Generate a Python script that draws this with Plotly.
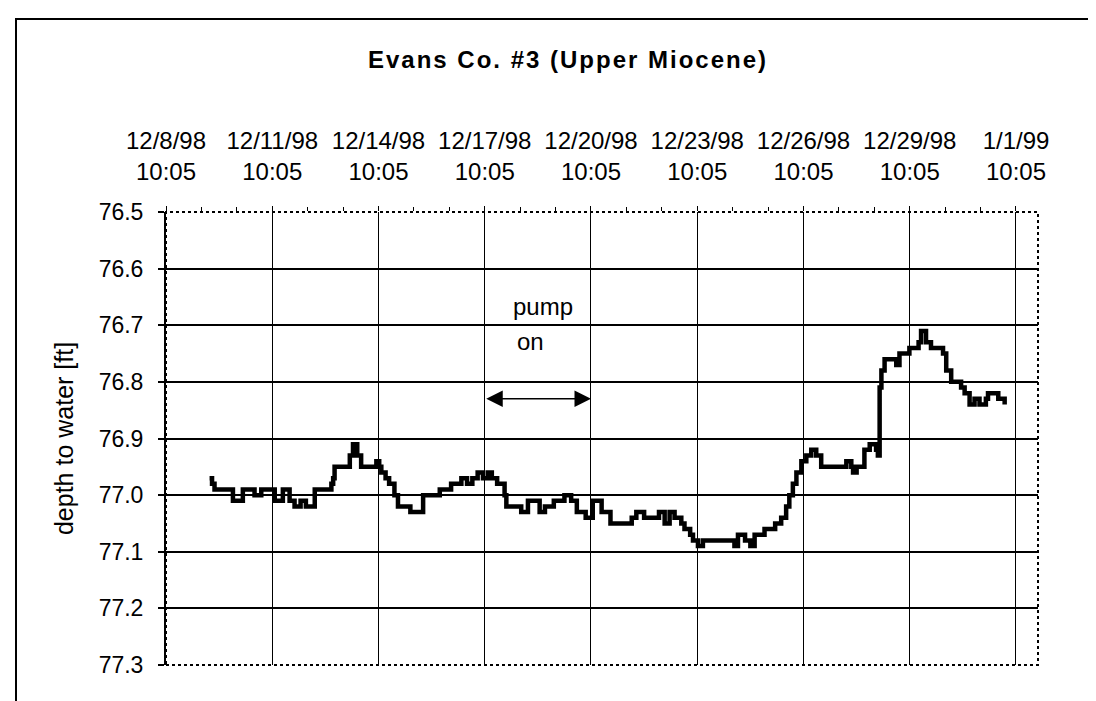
import pandas as pd
import plotly.graph_objects as go

# ---- data ----
start_time = "1998-12-08 10:05"
elapsed_days = [1.23, 1.30, 1.37, 1.89, 2.17, 2.50, 2.69, 3.07, 3.30, 3.49, 3.63, 3.80, 3.95,
                4.20, 4.67, 4.72, 4.76, 5.19, 5.28, 5.40, 5.51, 5.94, 6.02, 6.08, 6.20, 6.30,
                6.45, 6.55, 6.90, 7.26, 7.73, 8.05, 8.34, 8.50, 8.65, 8.80, 8.95, 9.09, 9.20,
                9.35, 9.56, 9.61, 10.03, 10.22, 10.55, 10.70, 10.95, 11.25, 11.44, 11.60, 11.85,
                12.05, 12.30, 12.55, 13.15, 13.28, 13.50, 13.92, 14.08, 14.22, 14.36, 14.55,
                14.64, 14.80, 14.88, 15.02, 15.16, 16.05, 16.15, 16.35, 16.50, 16.62, 16.90,
                17.20, 17.37, 17.51, 17.60, 17.70, 17.80, 17.94, 18.08, 18.22, 18.36, 18.50,
                19.21, 19.35, 19.40, 19.50, 19.72, 19.87, 20.05, 20.10, 20.15, 20.20, 20.29,
                20.62, 20.71, 20.99, 21.25, 21.32, 21.46, 21.60, 21.94, 22.03, 22.17, 22.45,
                22.55, 22.69, 22.83, 22.97, 23.15, 23.21, 23.50, 23.68]
depth_ft = [76.97, 76.98, 76.99, 77.01, 76.99, 77.00, 76.99, 77.01, 76.99, 77.01, 77.02, 77.01, 77.02,
            76.99, 76.98, 76.97, 76.95, 76.93, 76.91, 76.93, 76.95, 76.94, 76.95, 76.96, 76.97, 76.98,
            77.00, 77.02, 77.03, 77.00, 76.99, 76.98, 76.97, 76.98, 76.97, 76.96, 76.97, 76.96, 76.97,
            76.98, 77.00, 77.02, 77.03, 77.01, 77.03, 77.02, 77.01, 77.00, 77.01, 77.03, 77.04,
            77.01, 77.03, 77.05, 77.04, 77.03, 77.04, 77.03, 77.05, 77.03, 77.04, 77.05,
            77.06, 77.07, 77.08, 77.09, 77.08, 77.09, 77.07, 77.08, 77.09, 77.07, 77.06,
            77.05, 77.04, 77.02, 77.00, 76.98, 76.96, 76.94, 76.93, 76.92, 76.93, 76.95,
            76.94, 76.95, 76.96, 76.95, 76.92, 76.91, 76.92, 76.93, 76.81, 76.78, 76.76,
            76.77, 76.75, 76.74, 76.73, 76.71, 76.73, 76.74, 76.75, 76.78, 76.80, 76.81,
            76.82, 76.84, 76.83, 76.84, 76.83, 76.82, 76.83, 76.84]

y_ticks = [76.5, 76.6, 76.7, 76.8, 76.9, 77.0, 77.1, 77.2, 77.3]
x_end = "1999-01-02 01:00"
pump_start = "1998-12-17 10:05"
pump_end = "1998-12-20 10:05"
pump_arrow_depth = 76.83
pump_label_1 = ("1998-12-19 01:30", 76.667)
pump_label_2 = ("1998-12-18 17:15", 76.729)

times = pd.Timestamp(start_time) + pd.to_timedelta(elapsed_days, unit="D")

FONT = "Liberation Sans, Arial, sans-serif"
DAY_MS = 86400000

fig = go.Figure()
fig.add_trace(go.Scatter(x=times, y=depth_ft, mode="lines", line_shape="hv",
                         line=dict(color="black", width=4.5), showlegend=False,
                         hoverinfo="x+y"))
# helper trace to carry the grid-only overlay axis
fig.add_trace(go.Scatter(x=[times[0]], y=[depth_ft[0]], yaxis="y2", mode="lines",
                         line=dict(width=0), showlegend=False, hoverinfo="skip"))

fig.update_layout(
    width=1096, height=701,
    margin=dict(l=158, r=66, t=204, b=44),
    paper_bgcolor="white", plot_bgcolor="white",
    font=dict(family=FONT, color="black"),
    title=dict(text='<span style="letter-spacing:2px">Evans Co. #3 (Upper Miocene)</span>',
               font=dict(family=FONT, size=24, color="black", weight="bold"),
               xref="paper", x=(560 - 158) / 872, xanchor="center",
               yref="container", y=1 - 52 / 701, yanchor="middle"),
    xaxis=dict(type="date", side="top", range=[start_time, x_end],
               tick0=start_time, dtick=3 * DAY_MS,
               tickformat="%-m/%-d/%y<br>%H:%M",
               tickfont=dict(size=24, family=FONT, color="black"),
               ticks="outside", ticklen=5, tickcolor="black", tickwidth=1,
               ticklabelstandoff=16,
               minor=dict(dtick=DAY_MS, tick0=start_time, ticks="outside", ticklen=4,
                          tickcolor="black", showgrid=False),
               showgrid=True, gridcolor="black", gridwidth=1.2,
               showline=False, zeroline=False),
    yaxis=dict(range=[77.3, 76.5], tickvals=y_ticks,
               ticktext=[f"{v:.1f}" for v in y_ticks],
               tickfont=dict(size=23, family=FONT, color="black"),
               ticks="outside", ticklen=6, tickcolor="black", tickwidth=1.5,
               ticklabelstandoff=10,
               showgrid=False, zeroline=False,
               showline=True, linecolor="black", linewidth=2,
               title=dict(text="depth to water [ft]", font=dict(size=25, family=FONT, color="black"),
                          standoff=18)),
    yaxis2=dict(range=[77.3, 76.5], overlaying="y", tickvals=y_ticks[:-1],
                showticklabels=False, ticks="", showgrid=True, gridcolor="black",
                gridwidth=2, zeroline=False, showline=False),
)

# dotted plot border (right and bottom edges in the reference)
fig.add_shape(type="rect", xref="paper", yref="paper", x0=0, x1=1, y0=0, y1=1,
              line=dict(color="black", width=2, dash="dot"), layer="above")
# outer chart frame (top and left visible)
fig.add_shape(type="rect", xref="paper", yref="paper",
              x0=(8 - 158) / 872, x1=1.2, y0=-0.2, y1=(657 - 11) / 453,
              line=dict(color="black", width=2), layer="above")

# pump on annotation
fig.add_annotation(x=pump_label_1[0], y=pump_label_1[1], text="pump", showarrow=False,
                   font=dict(size=24, family=FONT, color="black"))
fig.add_annotation(x=pump_label_2[0], y=pump_label_2[1], text="on", showarrow=False,
                   font=dict(size=24, family=FONT, color="black"))
fig.add_annotation(x=pump_end, y=pump_arrow_depth, ax=pump_start, ay=pump_arrow_depth,
                   xref="x", yref="y", axref="x", ayref="y", text="",
                   showarrow=True, arrowhead=2, startarrowhead=2, arrowside="end+start",
                   arrowsize=2.2, startarrowsize=2.2, arrowwidth=1.5, arrowcolor="black",
                   standoff=0, startstandoff=0)

fig.write_html("out.html")
